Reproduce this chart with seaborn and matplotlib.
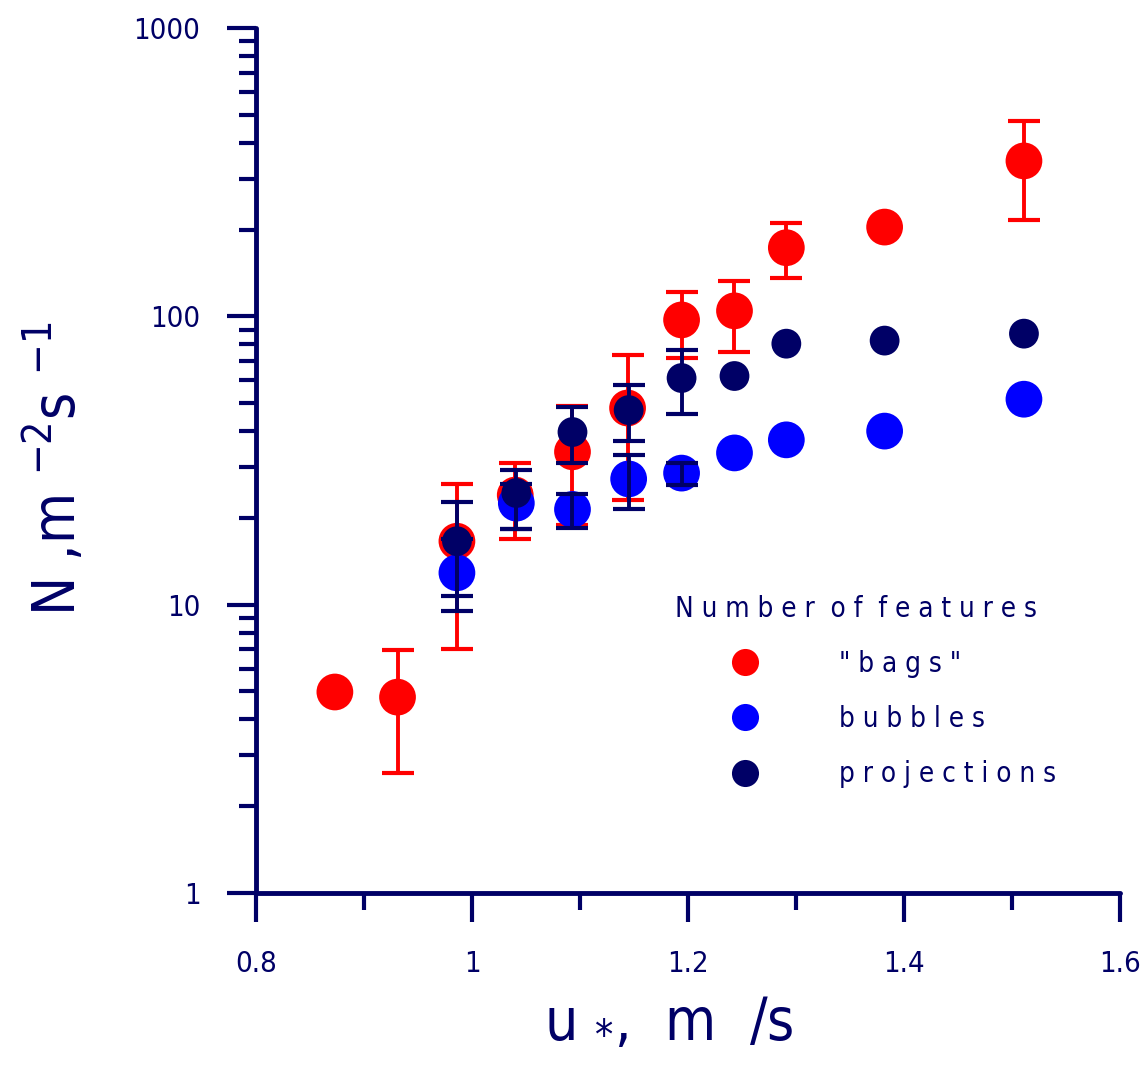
import numpy as np
import pandas as pd
import matplotlib
matplotlib.use("Agg")
import matplotlib.pyplot as plt
import seaborn as sns
from matplotlib import font_manager
from matplotlib.lines import Line2D
from matplotlib.ticker import FixedLocator, FixedFormatter, NullFormatter

# values
u_bags = [0.873, 0.931, 0.986, 1.040, 1.093, 1.144, 1.194, 1.243, 1.291, 1.382, 1.511]
n_bags = [4.98, 4.78, 16.6, 24.0, 33.9, 48.1, 97.2, 104.5, 173, 204, 346]
bags_lo = [np.nan, 2.61, 7.02, 16.9, 18.9, 23.1, 71.7, 75.5, 136, np.nan, 216]
bags_hi = [np.nan, 6.97, 26.2, 31.0, 48.9, 73.5, 121.6, 133, 211, np.nan, 477]

u_bub = [0.986, 1.041, 1.093, 1.145, 1.194, 1.243, 1.291, 1.382, 1.511]
n_bub = [12.9, 22.5, 21.4, 27.3, 28.6, 33.6, 37.3, 40.0, 51.6]
bub_lo = [10.7, 18.3, 18.5, 21.5, 26.1, np.nan, np.nan, np.nan, np.nan]
bub_hi = [16.9, 26.2, 24.3, 33.0, 30.9, np.nan, np.nan, np.nan, np.nan]

u_proj = [0.986, 1.041, 1.093, 1.145, 1.194, 1.243, 1.291, 1.382, 1.511]
n_proj = [16.6, 24.4, 39.7, 47.3, 61.1, 62.1, 80.4, 82.4, 87.1]
proj_lo = [9.51, 18.3, 30.9, 37.1, 45.8, np.nan, np.nan, np.nan, np.nan]
proj_hi = [22.7, 29.3, 48.6, 57.8, 76.4, np.nan, np.nan, np.nan, np.nan]

series = ["\" b a g s \"", "b u b b l e s", "p r o j e c t i o n s"]
yticks = [1, 10, 100, 1000]
ytick_labels = ["1", "10", "100", "1000"]
xticks = [0.8, 1.0, 1.2, 1.4, 1.6]
xtick_labels = ["0.8", "1", "1.2", "1.4", "1.6"]

navy = "#000066"
colors = {series[0]: "#ff0000", series[1]: "#0000ff", series[2]: navy}

sns.set_style("white")

# look for a narrow / condensed sans, the original lettering is very narrow
fam, stretch = "Liberation Sans", "normal"
for f in font_manager.fontManager.ttflist:
    if f.style != "normal" or f.weight not in (400, "normal", "regular"):
        continue
    if "Narrow" in f.name or str(f.stretch) in ("condensed", "extra-condensed", "semi-condensed"):
        fam, stretch = f.name, f.stretch
        if "Sans" in f.name:
            break
plt.rcParams["font.family"] = [fam, "DejaVu Sans"]
plt.rcParams["font.stretch"] = stretch
plt.rcParams["mathtext.fontset"] = "custom"
plt.rcParams["mathtext.rm"] = fam
plt.rcParams["mathtext.it"] = fam
plt.rcParams["mathtext.default"] = "rm"

df = pd.concat([
    pd.DataFrame({"u": u_bags, "N": n_bags, "kind": series[0]}),
    pd.DataFrame({"u": u_bub, "N": n_bub, "kind": series[1]}),
    pd.DataFrame({"u": u_proj, "N": n_proj, "kind": series[2]}),
])

fig = plt.figure(figsize=(11.42, 10.69), dpi=100)
ax = fig.add_axes([0.2242, 0.1646, 0.7566, 0.8092])


def bars(x, y, lo, hi, color, z):
    x, y, lo, hi = map(np.asarray, (x, y, lo, hi))
    m = ~np.isnan(lo)
    ax.errorbar(x[m], y[m], yerr=[y[m] - lo[m], hi[m] - y[m]], fmt="none",
                ecolor=color, elinewidth=2.8, capsize=11.5, capthick=3,
                zorder=z)


bars(u_bags, n_bags, bags_lo, bags_hi, "#ff0000", 1)

sns.scatterplot(data=df, x="u", y="N", hue="kind", palette=colors,
                size="kind", sizes={series[0]: 700, series[1]: 700, series[2]: 460},
                linewidth=0, legend=False, ax=ax, zorder=2)

bars(u_bub, n_bub, bub_lo, bub_hi, navy, 3)
bars(u_proj, n_proj, proj_lo, proj_hi, navy, 3)

ax.set_yscale("log")
ax.set_ylim(1, 1000)
ax.set_xlim(0.8, 1.6)

ax.yaxis.set_major_locator(FixedLocator(yticks))
ax.yaxis.set_major_formatter(FixedFormatter(ytick_labels))
yminor = [m * 10 ** d for d in range(3) for m in range(2, 10)]
ax.yaxis.set_minor_locator(FixedLocator(yminor))
ax.yaxis.set_minor_formatter(NullFormatter())
ax.xaxis.set_major_locator(FixedLocator(xticks))
ax.xaxis.set_major_formatter(FixedFormatter(xtick_labels))
ax.xaxis.set_minor_locator(FixedLocator([0.9, 1.1, 1.3, 1.5]))
ax.xaxis.set_minor_formatter(NullFormatter())

for s in ["top", "right"]:
    ax.spines[s].set_visible(False)
for s in ["left", "bottom"]:
    ax.spines[s].set_linewidth(3.5)
    ax.spines[s].set_color(navy)
    ax.spines[s].set_capstyle("round")

ax.tick_params(which="both", bottom=True, left=True, direction="out", color=navy)
ax.tick_params(which="major", length=21, width=3, labelcolor=navy, labelsize=21)
ax.tick_params(axis="y", which="major", pad=19)
ax.tick_params(axis="x", which="major", pad=20)
ax.tick_params(which="minor", length=12, width=3)

ax.set_xlabel(r"u $_{*}$,  m  /s", fontsize=42, color=navy)
ax.set_ylabel(r"N ,m $^{-2}$s $^{-1}$", fontsize=42, color=navy)
ax.xaxis.set_label_coords(0.478, -0.116)
ax.yaxis.set_label_coords(-0.195, 0.49)

handles = [Line2D([], [], ls="none", marker="o", markersize=19.5,
                  markerfacecolor=colors[k], markeredgewidth=0) for k in series]
leg = ax.legend(handles, series, title="N u m b e r  o f  f e a t u r e s",
                loc="upper left", bbox_to_anchor=(0.485, 0.345), frameon=False,
                fontsize=20, title_fontsize=20, borderpad=0, borderaxespad=0,
                handlelength=5.0, handletextpad=0.9, labelspacing=0.98,
                alignment="left")
for t in leg.get_texts():
    t.set_color(navy)
leg.get_title().set_color(navy)

fig.savefig("out.png", dpi=100)
